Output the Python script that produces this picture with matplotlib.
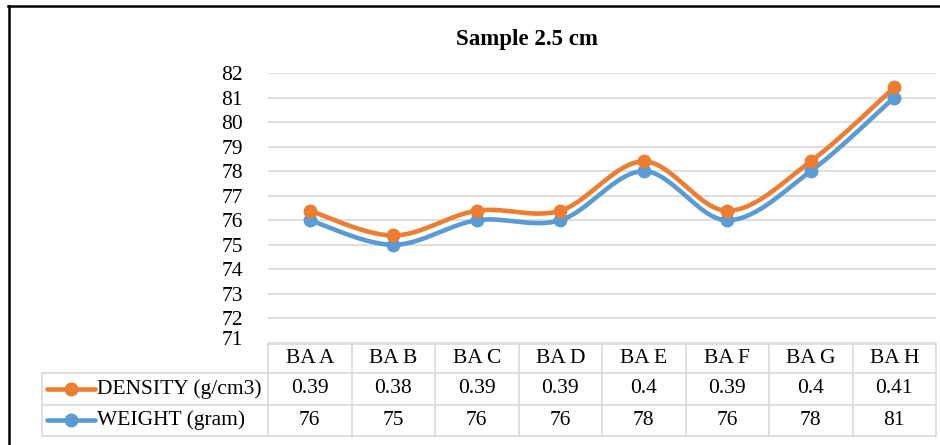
import numpy as np
import matplotlib.pyplot as plt
import matplotlib.transforms as mtransforms
from matplotlib.lines import Line2D

categories = ["BA A", "BA B", "BA C", "BA D", "BA E", "BA F", "BA G", "BA H"]
density = [0.39, 0.38, 0.39, 0.39, 0.4, 0.39, 0.4, 0.41]
weight = [76, 75, 76, 76, 78, 76, 78, 81]
density_label = ["0.39", "0.38", "0.39", "0.39", "0.4", "0.39", "0.4", "0.41"]
weight_label = ["76", "75", "76", "76", "78", "76", "78", "81"]

plt.rcParams["font.family"] = ["Liberation Serif", "DejaVu Serif"]

ORANGE = "#ED7D31"
BLUE = "#5B9BD5"
GRID = "#D9D9D9"
W, H = 940, 445
FS = 15.5


def smooth(x, y, n=30):
    # Excel-like smoothed line (Catmull-Rom as cubic Bezier)
    x = np.asarray(x, float)
    y = np.asarray(y, float)
    px = np.concatenate([[x[0]], x, [x[-1]]])
    py = np.concatenate([[y[0]], y, [y[-1]]])
    xs, ys = [], []
    t = np.linspace(0, 1, n)
    for i in range(1, len(px) - 2):
        p0 = np.array([px[i], py[i]])
        p3 = np.array([px[i + 1], py[i + 1]])
        c1 = p0 + (np.array([px[i + 1], py[i + 1]]) - np.array([px[i - 1], py[i - 1]])) / 6
        c2 = p3 - (np.array([px[i + 2], py[i + 2]]) - np.array([px[i], py[i]])) / 6
        b = ((1 - t) ** 3)[:, None] * p0 + (3 * (1 - t) ** 2 * t)[:, None] * c1 \
            + (3 * (1 - t) * t ** 2)[:, None] * c2 + (t ** 3)[:, None] * p3
        xs.extend(b[:, 0])
        ys.extend(b[:, 1])
    return np.array(xs), np.array(ys)


fig = plt.figure(figsize=(W / 100, H / 100), dpi=100)

def fx(px):
    return px / W

def fy(py):
    return 1 - py / H

left, right, top, bottom = 268, 936, 73, 343
ax = fig.add_axes([fx(left), fy(bottom), fx(right - left), (bottom - top) / H])

n = len(categories)
xpos = np.arange(n)
weight = np.array(weight, float)
stacked = weight + np.array(density)

for yv, col in [(weight, BLUE), (stacked, ORANGE)]:
    sx, sy = smooth(xpos, yv)
    ax.plot(sx, sy, color=col, lw=3.3, solid_capstyle="round", zorder=3)
    ax.plot(xpos, yv, "o", color=col, ms=9, zorder=4)

ax.set_xlim(-0.5, n - 0.5)
ax.set_ylim(71, 82)
ax.set_yticks(range(71, 83))
ax.yaxis.grid(True, color=GRID, lw=1.2)
ax.set_axisbelow(True)
for s in ax.spines.values():
    s.set_visible(False)
ax.tick_params(axis="y", length=0, labelsize=FS, pad=18)
ax.tick_params(axis="x", length=0, labelbottom=False)

# lowest label sits a little above the table
lab71 = ax.get_yticklabels()[0]
lab71.set_transform(lab71.get_transform() + mtransforms.ScaledTranslation(0, 5 / 100, fig.dpi_scale_trans))

fig.text(fx(527), fy(40), "Sample 2.5 cm", ha="center", va="center",
         fontsize=16.5, fontweight="bold")

# frame (left and top edges)
fig.add_artist(Line2D([fx(9), fx(9)], [fy(6), fy(445)], color="black", lw=1.8))
fig.add_artist(Line2D([fx(8), fx(940)], [fy(6), fy(6)], color="black", lw=1.8))

# data table
col_w = (right - left) / n
rows_y = [344, 373, 404.5, 436]
tab_left = 42
fig.add_artist(Line2D([fx(left), fx(right)], [fy(rows_y[0])] * 2, color=GRID, lw=1.2))
for yy in rows_y[1:]:
    fig.add_artist(Line2D([fx(tab_left), fx(right)], [fy(yy)] * 2, color=GRID, lw=1.2))
fig.add_artist(Line2D([fx(tab_left)] * 2, [fy(rows_y[1]), fy(rows_y[3])], color=GRID, lw=1.2))
for k in range(n + 1):
    xx = left + k * col_w
    fig.add_artist(Line2D([fx(xx)] * 2, [fy(rows_y[0]), fy(rows_y[3])], color=GRID, lw=1.2))

for k in range(n):
    cx = fx(left + (k + 0.5) * col_w)
    fig.text(cx, fy((rows_y[0] + rows_y[1]) / 2), categories[k], ha="center", va="center", fontsize=FS)
    fig.text(cx, fy((rows_y[1] + rows_y[2]) / 2), density_label[k], ha="center", va="center", fontsize=FS)
    fig.text(cx, fy((rows_y[2] + rows_y[3]) / 2), weight_label[k], ha="center", va="center", fontsize=FS)

for r, (lab, col) in enumerate([("DENSITY (g/cm3)", ORANGE), ("WEIGHT (gram)", BLUE)]):
    yc = fy((rows_y[r + 1] + rows_y[r + 2]) / 2)
    fig.add_artist(Line2D([fx(47), fx(95)], [yc, yc], color=col, lw=3.3, solid_capstyle="round"))
    fig.add_artist(Line2D([fx(71)], [yc], color=col, marker="o", ms=9, lw=0))
    fig.text(fx(97), yc, lab, ha="left", va="center", fontsize=FS)

fig.savefig("out.png", dpi=100)
